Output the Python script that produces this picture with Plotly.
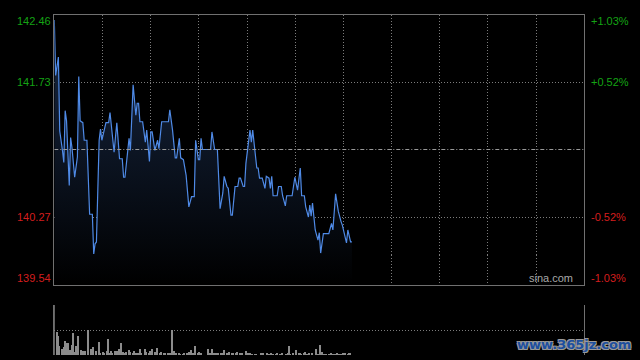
import plotly.graph_objects as go

# ---- price line (minute index, price) ----
minutes = [0, 1, 3, 4, 6, 7, 8, 9, 11, 12, 13, 15, 17, 18, 19, 21, 22, 24, 26, 28,
           29, 30, 31, 33, 34, 35, 38, 40, 41, 44, 46, 48, 50, 51, 52, 55, 56, 58, 60, 61,
           62, 63, 65, 67, 68, 69, 70, 71, 72, 74, 76, 77, 79, 84, 85, 87, 89, 90, 92, 93,
           95, 97, 99, 101, 103, 104, 106, 107, 108, 109, 115, 116, 118, 120, 122, 124, 125, 127, 128, 130,
           131, 133, 135, 136, 137, 139, 140, 141, 142, 144, 145, 146, 147, 149, 150, 151, 153, 155, 156, 158,
           159, 160, 161, 164, 165, 167, 168, 170, 171, 175, 177, 179, 181, 182, 184, 185, 187, 188, 189, 190,
           192, 194, 195, 196, 198, 202, 204, 205, 207, 209, 211, 212, 215, 216, 218, 219]
prices = [142.40, 141.80, 142.00, 141.20, 140.99, 140.86, 141.42, 141.31, 140.61, 141.13, 141.02, 140.70, 140.92, 141.79, 141.31, 141.29, 141.10, 141.10, 140.30, 140.30,
          139.87, 139.98, 140.00, 141.10, 141.22, 141.10, 141.29, 141.29, 141.40, 140.97, 141.29, 140.90, 140.90, 140.70, 140.70, 141.12, 140.99, 141.70, 141.37, 141.50,
          141.50, 141.30, 141.30, 141.08, 141.21, 141.02, 140.87, 141.19, 141.19, 140.99, 141.10, 141.01, 141.30, 141.30, 141.43, 141.21, 140.91, 140.91, 141.12, 140.91,
          140.89, 140.72, 140.38, 140.49, 140.49, 141.10, 140.89, 140.89, 141.12, 141.00, 141.00, 141.19, 141.00, 141.00, 140.36, 140.53, 140.71, 140.60, 140.58, 140.29,
          140.29, 140.60, 140.60, 140.69, 140.69, 140.60, 140.60, 140.85, 140.99, 141.21, 141.08, 141.21, 141.07, 140.80, 140.80, 140.69, 140.69, 140.58, 140.71, 140.69,
          140.58, 140.71, 140.50, 140.50, 140.60, 140.60, 140.50, 140.39, 140.50, 140.50, 140.70, 140.56, 140.80, 140.50, 140.50, 140.38, 140.27, 140.40, 140.28, 140.42,
          140.13, 140.02, 140.10, 139.88, 140.09, 140.09, 140.20, 140.13, 140.52, 140.33, 140.22, 140.18, 139.99, 140.13, 140.00, 140.00]

# ---- volume bars (minute index, relative volume) ----
vol_minutes = [0, 2, 3, 4, 6, 7, 8, 9, 10, 12, 13, 14, 15, 16, 17, 18, 20, 21, 22, 23,
               25, 27, 28, 29, 31, 33, 34, 36, 37, 39, 40, 41, 42, 43, 45, 46, 47, 48, 49, 51,
               52, 53, 55, 56, 58, 59, 60, 62, 63, 64, 67, 68, 70, 71, 72, 74, 76, 78, 79, 81,
               82, 84, 85, 87, 88, 90, 92, 93, 95, 96, 98, 99, 101, 102, 104, 106, 107,
               108, 113, 115, 116, 118, 119, 121, 123, 124, 125, 127, 129, 131, 132, 134, 135, 137, 138,
               141, 143, 144, 146, 148, 149, 152, 153, 154, 157, 158, 160, 161, 163, 164, 166, 167, 168,
               171, 172, 173, 174, 176, 178, 180, 181, 182, 184, 185, 186, 188, 190, 193, 194, 196, 197,
               199, 200, 202, 204, 205, 207, 208, 210, 211, 213, 214, 216, 217, 218]
volumes = [100, 47, 39, 18, 13, 16, 28, 24, 24, 11, 21, 44, 7, 18, 9, 38, 10, 9, 9, 9,
           50, 12, 7, 16, 9, 26, 5, 7, 3, 9, 32, 3, 9, 3, 9, 9, 3, 12, 24, 7,
           3, 7, 10, 7, 3, 9, 3, 3, 12, 5, 12, 7, 5, 9, 13, 7, 15, 3, 7, 3,
           5, 3, 3, 50, 9, 3, 3, 2, 2, 5, 3, 7, 10, 5, 18, 5, 7,
           5, 12, 5, 13, 5, 3, 3, 5, 5, 10, 3, 7, 3, 5, 3, 7, 3, 3,
           9, 3, 3, 2, 2, 2, 3, 2, 3, 3, 2, 5, 2, 2, 3, 2, 2, 3,
           2, 5, 18, 2, 3, 10, 3, 3, 2, 3, 7, 2, 3, 3, 12, 2, 20, 7,
           2, 2, 2, 3, 2, 2, 5, 2, 2, 3, 5, 2, 3, 5]

prev_close = 141.00
left_ticks = [142.46, 141.73, 140.27, 139.54]
right_ticks = ["+1.03%", "+0.52%", "-0.52%", "-1.03%"]
y_min, y_max = 139.54, 142.46
session_minutes = 390
n_vgrid = 11

GREEN = "#14a314"
RED = "#d41e1e"
GRID = "#7c7c7c"
FONT = "Liberation Sans, Arial, sans-serif"

X_DOM = [54.3 / 640, 584.3 / 640]
PY_DOM = [1 - 284.5 / 360, 1 - 14.5 / 360]
VY_DOM = [1 - 355 / 360, 1 - 305 / 360]

fig = go.Figure()

# baseline for filled area
fig.add_trace(go.Scatter(x=[minutes[0], minutes[-1]], y=[y_min, y_min], mode="lines",
                         line=dict(width=0), hoverinfo="skip", showlegend=False,
                         xaxis="x", yaxis="y"))
fig.add_trace(go.Scatter(x=minutes, y=prices, mode="lines",
                         line=dict(color="#4f8ae6", width=1.2),
                         fill="tonexty",
                         fillgradient=dict(type="vertical",
                                           colorscale=[[0, "rgb(0,0,0)"], [1, "rgb(20,34,58)"]],
                                           start=y_min, stop=141.9),
                         showlegend=False, xaxis="x", yaxis="y"))

fig.add_trace(go.Bar(x=vol_minutes, y=volumes, marker=dict(color="#8c8c8c", line=dict(width=0)),
                     width=0.75, showlegend=False, xaxis="x2", yaxis="y2"))

vgrid = [i * session_minutes / n_vgrid for i in range(n_vgrid + 1)]

fig.update_layout(
    width=640, height=360,
    margin=dict(l=0, r=0, t=0, b=0),
    paper_bgcolor="black", plot_bgcolor="black",
    showlegend=False, bargap=0,
    xaxis=dict(domain=X_DOM, range=[0, session_minutes], tickvals=vgrid,
               showticklabels=False, ticks="", showgrid=True, gridcolor=GRID,
               griddash="1px,2px", gridwidth=1, zeroline=False,
               showline=True, linecolor="#707070", linewidth=1, mirror=True, anchor="y"),
    yaxis=dict(domain=PY_DOM, range=[y_min, y_max],
               tickvals=[141.73, 140.27], showticklabels=False, ticks="",
               showgrid=True, gridcolor=GRID, griddash="1px,2px", gridwidth=1,
               zeroline=False, showline=True, linecolor="#707070", linewidth=1,
               mirror=True, anchor="x"),
    xaxis2=dict(domain=X_DOM, range=[0, session_minutes], showticklabels=False,
                ticks="", showgrid=False, zeroline=False, showline=False, anchor="y2"),
    yaxis2=dict(domain=VY_DOM, range=[0, 100], tickvals=[0, 50, 100],
                showticklabels=False, ticks="", showgrid=True, gridcolor=GRID,
                griddash="1px,2px", gridwidth=1, zeroline=False,
                showline=True, linecolor="#707070", linewidth=1, mirror=True, anchor="x2"),
)

# previous close line
fig.add_shape(type="line", xref="x", yref="y", x0=0, x1=session_minutes,
              y0=prev_close, y1=prev_close,
              line=dict(color="#9a9a9a", width=1, dash="4px,2px,1px,2px"))

anchors = ["top", "middle", "middle", "bottom"]
for i, (v, r) in enumerate(zip(left_ticks, right_ticks)):
    col = GREEN if v > prev_close else RED
    fig.add_annotation(xref="paper", yref="y", x=51.5 / 640, y=v, text=f"{v:.2f}",
                       xanchor="right", yanchor=anchors[i], showarrow=False,
                       font=dict(family=FONT, size=11, color=col), borderpad=0)
    fig.add_annotation(xref="paper", yref="y", x=589.5 / 640, y=v, text=r,
                       xanchor="left", yanchor=anchors[i], showarrow=False,
                       font=dict(family=FONT, size=11, color=col), borderpad=0)

fig.add_annotation(xref="paper", yref="y", x=573.5 / 640, y=y_min, text="sina.com",
                   xanchor="right", yanchor="bottom", showarrow=False,
                   font=dict(family=FONT, size=11, color="#a8a8a8"), borderpad=0)

fig.add_annotation(xref="paper", yref="paper", x=633 / 640, y=1 - 344 / 360,
                   text="<b>www.365jz.com</b>", xanchor="right", yanchor="middle",
                   showarrow=False,
                   font=dict(family="DejaVu Sans, sans-serif", size=13, color="#1d4f9e",
                             shadow="-1px -1px 0 #9a9a9a, 1px -1px 0 #9a9a9a, -1px 1px 0 #9a9a9a, 1px 1px 0 #9a9a9a"))

fig.write_html("out.html")
